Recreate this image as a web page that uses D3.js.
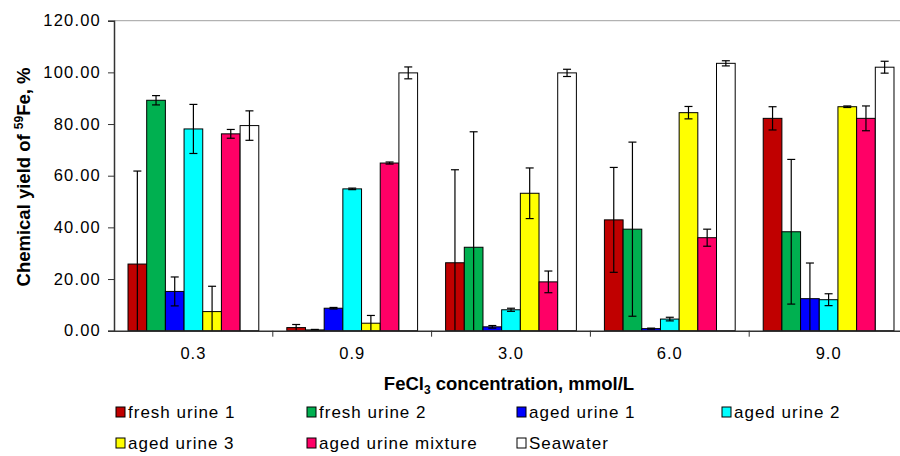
<!DOCTYPE html>
<html><head><meta charset="utf-8">
<script src="https://cdn.jsdelivr.net/npm/d3@7"></script>
<style>
body{margin:0;background:#fff;}
svg{display:block;font-family:"Liberation Sans",Arial,sans-serif;}
</style></head>
<body><svg id="c" width="900" height="456"></svg>
<script>
const categories = ["0.3","0.9","3.0","6.0","9.0"];
const seriesNames = ["fresh urine 1","fresh urine 2","aged urine 1","aged urine 2","aged urine 3","aged urine mixture","Seawater"];
const seriesColors = ["#C00000","#00B050","#0000FF","#00FFFF","#FFFF00","#FF0066","#FFFFFF"];
const freshUrine1 = [25.8, 1.2, 26.3, 42.9, 82.2];
const freshUrine2 = [89.2, 0.3, 32.3, 39.3, 38.3];
const agedUrine1 = [15.2, 8.7, 1.5, 0.8, 12.4];
const agedUrine2 = [78.1, 54.9, 8.1, 4.5, 12.0];
const agedUrine3 = [7.4, 2.9, 53.2, 84.4, 86.7];
const agedUrineMix = [76.2, 64.9, 18.9, 36.0, 82.2];
const seawater = [79.4, 99.8, 99.8, 103.5, 102.0];
const errFreshUrine1 = [36.0, 1.2, 36.0, 20.3, 4.5];
const errFreshUrine2 = [1.8, 0.2, 44.7, 33.7, 28.0];
const errAgedUrine1 = [5.6, 0.3, 0.5, 0.2, 13.8];
const errAgedUrine2 = [9.5, 0.3, 0.6, 0.7, 2.3];
const errAgedUrine3 = [9.8, 3.0, 9.8, 2.4, 0.3];
const errAgedUrineMix = [1.7, 0.4, 4.2, 3.3, 4.8];
const errSeawater = [5.7, 2.3, 1.4, 1.0, 2.3];
const yTicks = [0,20,40,60,80,100,120];

const values = [freshUrine1,freshUrine2,agedUrine1,agedUrine2,agedUrine3,agedUrineMix,seawater];
const errors = [errFreshUrine1,errFreshUrine2,errAgedUrine1,errAgedUrine2,errAgedUrine3,errAgedUrineMix,errSeawater];

const svg = d3.select("#c");
const L = 114, R = 908, T = 20.7, B = 330.7;
const x0 = d3.scaleBand().domain(categories).range([L,R]).padding(0);
const x1 = d3.scaleBand().domain(d3.range(seriesNames.length)).range([0,x0.bandwidth()]).paddingInner(0).paddingOuter(0.75);
const y = d3.scaleLinear().domain([0,120]).range([B,T]);

// top border
svg.append("line").attr("x1",L).attr("x2",900).attr("y1",T).attr("y2",T).attr("stroke","#a0a0a0").attr("stroke-width",1);

// bars
const g = svg.append("g");
categories.forEach((c,ci)=>{
  values.forEach((vals,si)=>{
    const v = vals[ci];
    g.append("rect")
      .attr("x", x0(c)+x1(si)).attr("y", y(v))
      .attr("width", x1.bandwidth()).attr("height", y(0)-y(v))
      .attr("fill", seriesColors[si]).attr("stroke","#000").attr("stroke-width",1);
  });
});
// error bars
categories.forEach((c,ci)=>{
  values.forEach((vals,si)=>{
    const v = vals[ci], e = errors[si][ci];
    const cx = x0(c)+x1(si)+x1.bandwidth()/2;
    const hi = v+e, lo = Math.max(0, v-e);
    g.append("line").attr("x1",cx).attr("x2",cx).attr("y1",y(hi)).attr("y2",y(lo)).attr("stroke","#000").attr("stroke-width",1.2);
    g.append("line").attr("x1",cx-4).attr("x2",cx+4).attr("y1",y(hi)).attr("y2",y(hi)).attr("stroke","#000").attr("stroke-width",1.2);
    if (v-e > 0) g.append("line").attr("x1",cx-4).attr("x2",cx+4).attr("y1",y(lo)).attr("y2",y(lo)).attr("stroke","#000").attr("stroke-width",1.2);
  });
});

// y axis
const ya = svg.append("g").attr("transform",`translate(${L},0)`)
  .call(d3.axisLeft(y).tickValues(yTicks).tickSize(6).tickPadding(7).tickFormat(d3.format(".2f")));
ya.select(".domain").attr("stroke","#333").attr("stroke-width",1.5);
ya.selectAll(".tick line").attr("stroke","#333");
ya.selectAll("text").attr("font-size",16.5).attr("font-family","Liberation Sans, Arial, sans-serif").attr("letter-spacing","1.2px").attr("fill","#000");

// x axis
const xa = svg.append("g").attr("transform",`translate(0,${B})`)
  .call(d3.axisBottom(x0).tickSize(0).tickPadding(17));
xa.select(".domain").attr("stroke","#333").attr("stroke-width",1.5);
xa.selectAll("text").attr("font-size",16.5).attr("font-family","Liberation Sans, Arial, sans-serif").attr("letter-spacing","1px").attr("fill","#000");
categories.forEach((c)=>{
  const xx = x0(c)+x0.bandwidth();
  svg.append("line").attr("x1",xx).attr("x2",xx).attr("y1",B).attr("y2",B+6).attr("stroke","#333");
});

// y title
const yt = svg.append("text").attr("transform","translate(29.5,177) rotate(-90)")
  .attr("text-anchor","middle").attr("font-size",18.5).attr("font-weight","bold").attr("fill","#000");
yt.append("tspan").text("Chemical yield of ");
yt.append("tspan").text("59").attr("font-size",12).attr("dy",-7);
yt.append("tspan").text("Fe, %").attr("dy",7);

// x title
const xt = svg.append("text").attr("x",509).attr("y",390)
  .attr("text-anchor","middle").attr("font-size",18.5).attr("font-weight","bold").attr("fill","#000");
xt.append("tspan").text("FeCl");
xt.append("tspan").text("3").attr("font-size",12).attr("dy",4);
xt.append("tspan").text(" concentration, mmol/L").attr("dy",-4);

// legend
const legX = [116, 307, 517, 722];
const legY = [412, 443];
seriesNames.forEach((n,i)=>{
  const col = i%4, row = Math.floor(i/4);
  const lg = svg.append("g").attr("transform",`translate(${legX[col]},${legY[row]})`);
  lg.append("rect").attr("x",0).attr("y",-5).attr("width",9).attr("height",10)
    .attr("fill",seriesColors[i]).attr("stroke","#000").attr("stroke-width",1);
  lg.append("text").attr("x",12).attr("y",6).attr("font-size",17).attr("letter-spacing","1px").attr("fill","#000").text(n);
});
</script></body></html>
